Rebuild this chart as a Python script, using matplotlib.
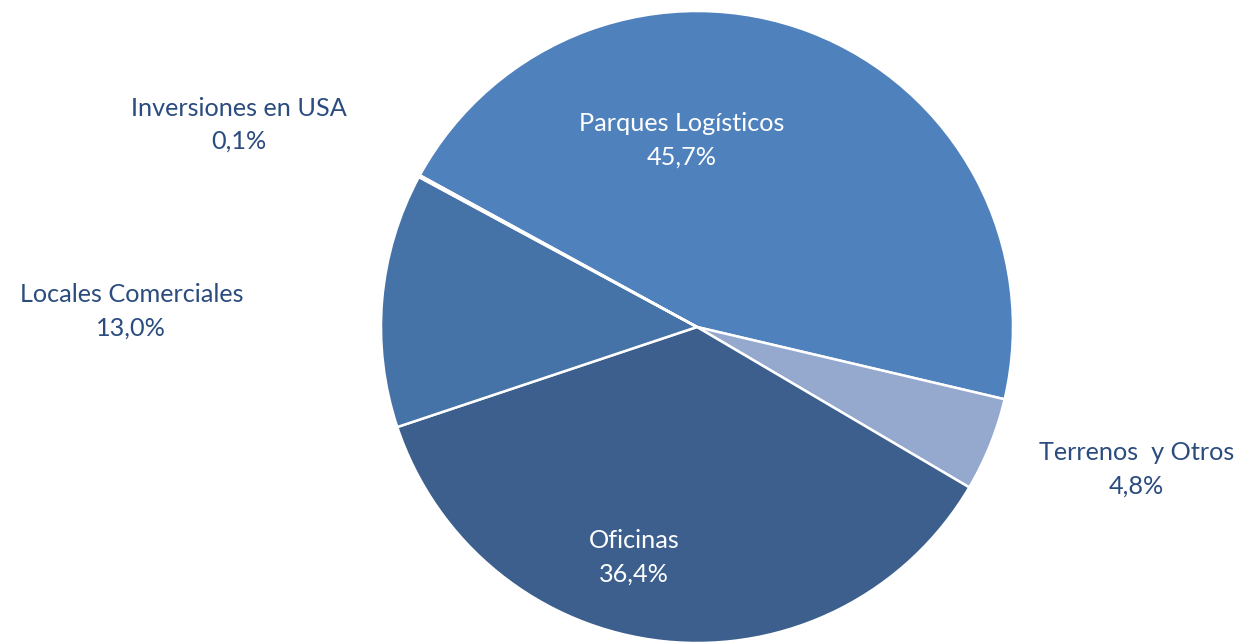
import matplotlib
matplotlib.use('Agg')
import matplotlib.pyplot as plt
import numpy as np

plt.rcParams['font.family'] = ['Lato', 'DejaVu Sans']

# datos (orden en sentido horario desde el borde superior izquierdo)
categorias = ['Parques Logísticos', 'Terrenos  y Otros', 'Oficinas', 'Locales Comerciales', 'Inversiones en USA']
valores = [45.7, 4.8, 36.4, 13.0, 0.1]
colores = ['#4F81BD', '#95A9CF', '#3C5F8D', '#4673A7', '#4F81BD']
# posicion de cada etiqueta (unidades del radio) y color de texto
pos_etiquetas = [(-0.05, 0.59), (1.39, -0.45), (-0.20, -0.73), (-1.79, 0.05), (-1.45, 0.64)]
color_texto = ['white', '#2B4C7E', 'white', '#2B4C7E', '#2B4C7E']

W, H = 1247, 644
fig = plt.figure(figsize=(W / 100, H / 100), dpi=100)
cx, cy, r = 697, 327, 316
ax = fig.add_axes([(cx - r) / W, (H - cy - r) / H, 2 * r / W, 2 * r / H])

ax.pie(valores, colors=colores, startangle=151.3, counterclock=False,
       wedgeprops=dict(edgecolor='white', linewidth=1.8), radius=1)
ax.set_xlim(-1, 1)
ax.set_ylim(-1, 1)
ax.set_aspect('equal')
ax.axis('off')

for cat, v, (x, y), c in zip(categorias, valores, pos_etiquetas, color_texto):
    txt = cat + '\n' + ('%.1f%%' % v).replace('.', ',')
    ax.text(x, y, txt, ha='center', va='center', color=c, fontsize=18.2,
            linespacing=1.55, clip_on=False)

fig.savefig('out.png', dpi=100)
